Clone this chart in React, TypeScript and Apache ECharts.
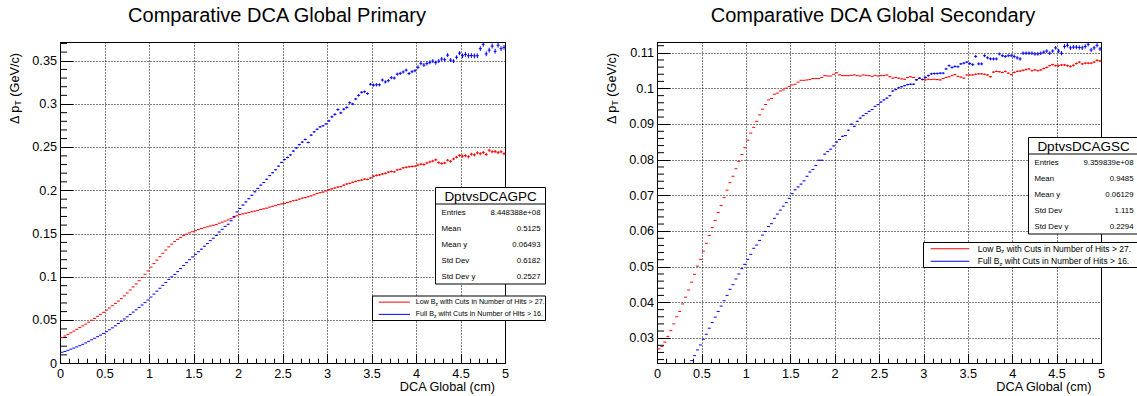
import React, { useEffect, useRef } from "react";
import * as echarts from "echarts";

const FONT = "'Liberation Sans', Arial, Helvetica, sans-serif";

// DCA axis: 150 equal bins between 0 and 5 cm
const DCA_MIN = 0;
const DCA_MAX = 5;
const N_BINS = 150;
const BIN_WIDTH = (DCA_MAX - DCA_MIN) / N_BINS;
const ERR_SEGMENT = 0.5; // error-bar sizes are listed per 0.5 cm of DCA

// ---- Comparative DCA Global Primary: mean Δp_T per bin (GeV/c) ----
const primaryLowBz = [
  0.0300, 0.0318, 0.0336, 0.0355, 0.0374, 0.0395, 0.0415, 0.0435, 0.0455, 0.0478,
  0.0500, 0.0521, 0.0545, 0.0568, 0.0592, 0.0617, 0.0642, 0.0668, 0.0695, 0.0722,
  0.0750, 0.0782, 0.0815, 0.0850, 0.0885, 0.0920, 0.0957, 0.0994, 0.1032, 0.1070,
  0.1115, 0.1155, 0.1195, 0.1235, 0.1275, 0.1312, 0.1348, 0.1380, 0.1410, 0.1435,
  0.1458, 0.1478, 0.1495, 0.1510, 0.1523, 0.1536, 0.1548, 0.1560, 0.1570, 0.1580,
  0.1590, 0.1598, 0.1606, 0.1622, 0.1634, 0.1646, 0.1660, 0.1674, 0.1690, 0.1708,
  0.1722, 0.1730, 0.1738, 0.1746, 0.1754, 0.1762, 0.1770, 0.1780, 0.1788, 0.1796,
  0.1808, 0.1818, 0.1825, 0.1836, 0.1845, 0.1850, 0.1862, 0.1870, 0.1882, 0.1888,
  0.1900, 0.1912, 0.1918, 0.1928, 0.1938, 0.1950, 0.1965, 0.1975, 0.1982, 0.1995,
  0.2010, 0.2020, 0.2030, 0.2040, 0.2045, 0.2062, 0.2075, 0.2082, 0.2095, 0.2105,
  0.2115, 0.2120, 0.2132, 0.2128, 0.2145, 0.2165, 0.2175, 0.2180, 0.2190, 0.2198,
  0.2212, 0.2220, 0.2215, 0.2238, 0.2245, 0.2262, 0.2268, 0.2275, 0.2278, 0.2282,
  0.2295, 0.2305, 0.2300, 0.2318, 0.2330, 0.2340, 0.2355, 0.2322, 0.2312, 0.2318,
  0.2350, 0.2338, 0.2365, 0.2385, 0.2405, 0.2398, 0.2402, 0.2390, 0.2420, 0.2412,
  0.2435, 0.2425, 0.2440, 0.2418, 0.2465, 0.2448, 0.2450, 0.2438, 0.2448, 0.2425,
];

const primaryFullBz = [
  0.0130, 0.0139, 0.0152, 0.0166, 0.0178, 0.0192, 0.0206, 0.0222, 0.0238, 0.0256,
  0.0274, 0.0292, 0.0310, 0.0328, 0.0348, 0.0368, 0.0390, 0.0412, 0.0436, 0.0462,
  0.0488, 0.0515, 0.0540, 0.0566, 0.0594, 0.0621, 0.0648, 0.0676, 0.0704, 0.0734,
  0.0768, 0.0802, 0.0836, 0.0870, 0.0903, 0.0937, 0.0972, 0.1002, 0.1030, 0.1062,
  0.1098, 0.1132, 0.1166, 0.1200, 0.1232, 0.1262, 0.1292, 0.1322, 0.1356, 0.1386,
  0.1420, 0.1448, 0.1480, 0.1520, 0.1552, 0.1585, 0.1610, 0.1650, 0.1700, 0.1752,
  0.1792, 0.1832, 0.1868, 0.1905, 0.1945, 0.1985, 0.2024, 0.2062, 0.2092, 0.2130,
  0.2172, 0.2205, 0.2240, 0.2282, 0.2325, 0.2358, 0.2382, 0.2412, 0.2455, 0.2492,
  0.2530, 0.2560, 0.2590, 0.2555, 0.2640, 0.2678, 0.2708, 0.2735, 0.2748, 0.2770,
  0.2805, 0.2852, 0.2880, 0.2935, 0.2898, 0.2940, 0.2960, 0.3015, 0.3000, 0.3058,
  0.3100, 0.3135, 0.3142, 0.3120, 0.3228, 0.3218, 0.3222, 0.3222, 0.3277, 0.3255,
  0.3270, 0.3304, 0.3300, 0.3345, 0.3354, 0.3370, 0.3392, 0.3352, 0.3373, 0.3385,
  0.3425, 0.3470, 0.3450, 0.3468, 0.3482, 0.3496, 0.3478, 0.3496, 0.3520, 0.3512,
  0.3565, 0.3508, 0.3496, 0.3540, 0.3588, 0.3558, 0.3573, 0.3558, 0.3560, 0.3556,
  0.3558, 0.3640, 0.3690, 0.3580, 0.3623, 0.3670, 0.3610, 0.3680, 0.3640, 0.3655,
];

// ---- Comparative DCA Global Secondary ----
const secondaryLowBz = [
  0.0270, 0.0277, 0.0289, 0.0305, 0.0321, 0.0340, 0.0360, 0.0375, 0.0396, 0.0415,
  0.0435, 0.0457, 0.0479, 0.0502, 0.0521, 0.0544, 0.0566, 0.0588, 0.0610, 0.0630,
  0.0652, 0.0672, 0.0694, 0.0715, 0.0736, 0.0754, 0.0775, 0.0795, 0.0815, 0.0834,
  0.0855, 0.0875, 0.0891, 0.0908, 0.0926, 0.0942, 0.0955, 0.0968, 0.0972, 0.0984,
  0.0987, 0.0993, 0.0996, 0.1001, 0.1006, 0.1010, 0.1012, 0.1018, 0.1023, 0.1023,
  0.1024, 0.1025, 0.1028, 0.1028, 0.1028, 0.1031, 0.1036, 0.1035, 0.1035, 0.1040,
  0.1044, 0.1038, 0.1036, 0.1036, 0.1036, 0.1037, 0.1038, 0.1036, 0.1035, 0.1038,
  0.1037, 0.1036, 0.1034, 0.1037, 0.1035, 0.1036, 0.1036, 0.1038, 0.1033, 0.1029,
  0.1031, 0.1029, 0.1027, 0.1026, 0.1031, 0.1033, 0.1031, 0.1025, 0.1029, 0.1026,
  0.1024, 0.1026, 0.1025, 0.1026, 0.1025, 0.1024, 0.1028, 0.1031, 0.1033, 0.1036,
  0.1039, 0.1034, 0.1032, 0.1029, 0.1038, 0.1038, 0.1038, 0.1040, 0.1041, 0.1041,
  0.1040, 0.1038, 0.1033, 0.1046, 0.1048, 0.1047, 0.1045, 0.1048, 0.1043, 0.1039,
  0.1045, 0.1048, 0.1049, 0.1051, 0.1053, 0.1055, 0.1050, 0.1052, 0.1050, 0.1052,
  0.1056, 0.1059, 0.1064, 0.1067, 0.1064, 0.1064, 0.1066, 0.1066, 0.1064, 0.1062,
  0.1065, 0.1070, 0.1074, 0.1069, 0.1071, 0.1071, 0.1071, 0.1074, 0.1079, 0.1077,
];

// the first bins sit below the visible Δp_T range and are left empty
const secondaryFullBz: (number | null)[] = [
  null, null, null, null, null, null, null, null, null, null,
  null, 0.0237, 0.0251, 0.0267, 0.0281, 0.0297, 0.0311, 0.0328, 0.0344, 0.0359,
  0.0375, 0.0390, 0.0405, 0.0420, 0.0437, 0.0450, 0.0466, 0.0480, 0.0495, 0.0507,
  0.0521, 0.0535, 0.0552, 0.0561, 0.0574, 0.0589, 0.0599, 0.0613, 0.0621, 0.0636,
  0.0648, 0.0659, 0.0670, 0.0680, 0.0692, 0.0705, 0.0716, 0.0724, 0.0732, 0.0741,
  0.0754, 0.0766, 0.0773, 0.0784, 0.0799, 0.0799, 0.0816, 0.0823, 0.0830, 0.0839,
  0.0850, 0.0857, 0.0866, 0.0868, 0.0883, 0.0900, 0.0894, 0.0908, 0.0917, 0.0924,
  0.0930, 0.0936, 0.0941, 0.0950, 0.0955, 0.0962, 0.0968, 0.0973, 0.0980, 0.0993,
  0.0997, 0.1002, 0.1005, 0.1008, 0.1011, 0.1012, 0.1012, 0.1024, 0.1029, 0.1025,
  0.1031, 0.1036, 0.1041, 0.1042, 0.1042, 0.1043, 0.1043, 0.1055, 0.1064, 0.1059,
  0.1062, 0.1061, 0.1069, 0.1071, 0.1074, 0.1070, 0.1067, 0.1090, 0.1069, 0.1069,
  0.1092, 0.1086, 0.1083, 0.1083, 0.1083, 0.1097, 0.1092, 0.1090, 0.1092, 0.1092,
  0.1090, 0.1086, 0.1083, 0.1099, 0.1099, 0.1099, 0.1099, 0.1097, 0.1097, 0.1099,
  0.1102, 0.1105, 0.1099, 0.1105, 0.1114, 0.1105, 0.1099, 0.1118, 0.1121, 0.1114,
  0.1116, 0.1116, 0.1115, 0.1114, 0.1118, 0.1124, 0.1108, 0.1114, 0.1121, 0.1111,
];

// half-height of the vertical error bars, one value per 0.5 cm segment
const primaryLowBzErr = [0, 0, 0, 0, 0.0003, 0.0006, 0.0009, 0.0012, 0.0015, 0.0018];
const primaryFullBzErr = [0, 0, 0, 0.0003, 0.0006, 0.001, 0.0014, 0.0018, 0.0023, 0.0028];
const secondaryLowBzErr = [0, 0, 0, 0, 0.00005, 0.0001, 0.00014, 0.0002, 0.00025, 0.0003];
const secondaryFullBzErr = [0, 0, 0, 0.00008, 0.00015, 0.0002, 0.0003, 0.0004, 0.0005, 0.0006];

// Δp_T axis ranges and tick steps
const primaryYRange = [0, 0.3711];
const primaryYStep = 0.05;
const primaryYMinorStep = 0.01;
const secondaryYRange = [0.0229, 0.1129];
const secondaryYStep = 0.01;
const secondaryYMinorStep = 0.002;

// statistics boxes
const primaryStats = [
  ["Entries", "8.448388e+08"],
  ["Mean", "0.5125"],
  ["Mean y", "0.06493"],
  ["Std Dev", "0.6182"],
  ["Std Dev y", "0.2527"],
];
const secondaryStats = [
  ["Entries", "9.359839e+08"],
  ["Mean", "0.9485"],
  ["Mean y", "0.06129"],
  ["Std Dev", "1.115"],
  ["Std Dev y", "0.2294"],
];

const RED = "#ff0000";
const BLUE = "#0000ff";

function isMultiple(v: number, step: number) {
  const r = v / step;
  return Math.abs(r - Math.round(r)) < 1e-6;
}

function fmt(v: number) {
  return String(parseFloat(v.toFixed(5)));
}

function binSeries(gridIndex: number, values: (number | null)[], errs: number[], color: string) {
  const data: number[][] = [];
  values.forEach((v, i) => {
    if (v == null) return;
    const x = DCA_MIN + (i + 0.5) * BIN_WIDTH;
    const seg = Math.min(errs.length - 1, Math.floor((x - DCA_MIN) / ERR_SEGMENT));
    data.push([x, v, errs[seg]]);
  });
  return {
    type: "custom",
    xAxisIndex: gridIndex,
    yAxisIndex: gridIndex,
    clip: true,
    silent: true,
    z: 4,
    data,
    encode: { x: 0, y: 1 },
    renderItem: (_p: any, api: any) => {
      const x = api.value(0);
      const y = api.value(1);
      const e = api.value(2);
      const l = api.coord([x - BIN_WIDTH / 2, y]);
      const r = api.coord([x + BIN_WIDTH / 2, y]);
      const children: any[] = [
        {
          type: "line",
          shape: { x1: l[0], y1: l[1], x2: r[0], y2: r[1] },
          style: { stroke: color, lineWidth: 1 },
        },
      ];
      if (e > 0) {
        const t = api.coord([x, y + e]);
        const b = api.coord([x, y - e]);
        children.push({
          type: "line",
          shape: { x1: t[0], y1: t[1], x2: b[0], y2: b[1] },
          style: { stroke: color, lineWidth: 1 },
        });
      }
      return { type: "group", children };
    },
  };
}

function minorTicks(range: number[], major: number, minor: number) {
  const out: number[] = [];
  const start = Math.ceil(range[0] / minor - 1e-9);
  const end = Math.floor(range[1] / minor + 1e-9);
  for (let k = start; k <= end; k++) {
    const v = k * minor;
    if (v <= range[0] + 1e-9 || v >= range[1] - 1e-9) continue;
    if (!isMultiple(v, major)) out.push(v);
  }
  return out;
}

function yMinorSeries(gridIndex: number, ticks: number[]) {
  return {
    type: "custom",
    xAxisIndex: gridIndex,
    yAxisIndex: gridIndex,
    clip: false,
    silent: true,
    z: 3,
    data: ticks.map((v) => [DCA_MIN, v]),
    encode: { x: 0, y: 1 },
    renderItem: (_p: any, api: any) => {
      const c = api.coord([api.value(0), api.value(1)]);
      return {
        type: "line",
        shape: { x1: c[0], y1: c[1], x2: c[0] + 6.5, y2: c[1] },
        style: { stroke: "#000", lineWidth: 1 },
      };
    },
  };
}

const axisFont = { fontFamily: FONT, fontSize: 12.7, color: "#000" };

function xAxisOf(gridIndex: number) {
  return {
    gridIndex,
    type: "value",
    min: DCA_MIN,
    max: DCA_MAX,
    interval: 0.5,
    axisLine: { show: true, lineStyle: { color: "#000", width: 1 } },
    axisTick: { show: true, inside: true, length: 9.7, lineStyle: { color: "#000" } },
    minorTick: { show: true, splitNumber: 5, length: 4.8, lineStyle: { color: "#000" } },
    axisLabel: { ...axisFont, margin: 3.5 },
    splitLine: { show: true, lineStyle: { color: "#000", type: [1, 2], width: 1 } },
  };
}

function yAxisOf(gridIndex: number, range: number[], step: number, interval?: number, splitNumber?: number) {
  return {
    gridIndex,
    type: "value",
    min: range[0],
    max: range[1],
    ...(interval != null ? { interval } : {}),
    ...(splitNumber != null ? { splitNumber } : {}),
    axisLine: { show: true, lineStyle: { color: "#000", width: 1 } },
    axisTick: { show: true, inside: true, length: 13, lineStyle: { color: "#000" } },
    minorTick: { show: false },
    axisLabel: {
      ...axisFont,
      margin: 3.5,
      formatter: (v: number) => (isMultiple(v, step) ? fmt(v) : ""),
    },
    splitLine: { show: true, lineStyle: { color: "#000", type: [1, 2], width: 1 } },
  };
}

// ---- overlay texts and boxes ----
type Panel = {
  title: string;
  titleX: number;
  yTitleX: number;
  xTitleRight: number;
  statsName: string;
  stats: string[][];
  statsX: number;
  statsY: number;
  legendX: number;
  legendY: number;
  legendW: number;
  legendH: number;
  legendLine: number[];
  legendTextX: number;
  legendFont: number;
};

const panels: Panel[] = [
  {
    title: "Comparative DCA Global Primary",
    titleX: 277,
    yTitleX: 14.5,
    xTitleRight: 495,
    statsName: "DptvsDCAGPC",
    stats: primaryStats,
    statsX: 435.5,
    statsY: 187.5,
    legendX: 372.5,
    legendY: 296,
    legendW: 173,
    legendH: 24.5,
    legendLine: [378.7, 409.9],
    legendTextX: 415.7,
    legendFont: 7.15,
  },
  {
    title: "Comparative DCA Global Secondary",
    titleX: 873,
    yTitleX: 611.5,
    xTitleRight: 1091.5,
    statsName: "DptvsDCAGSC",
    stats: secondaryStats,
    statsX: 1028.5,
    statsY: 137.5,
    legendX: 923.5,
    legendY: 242.5,
    legendW: 214,
    legendH: 25,
    legendLine: [930.7, 969.3],
    legendTextX: 977.7,
    legendFont: 8.5,
  },
];

const legendEntries = [
  { color: RED, pre: "Low B", sub: "z", post: " with Cuts in Number of Hits > 27." },
  { color: BLUE, pre: "Full B", sub: "z", post: " wiht Cuts in Number of Hits > 16." },
];

function panelGraphics(p: Panel) {
  const els: any[] = [];
  const Z = 20;
  // title
  els.push({
    type: "text",
    x: p.titleX,
    y: 15,
    z: Z,
    style: { text: p.title, fontFamily: FONT, fontSize: 20, fill: "#000", align: "center", verticalAlign: "middle" },
  });
  // y-axis title, rotated, end-aligned near the top of the frame
  els.push({
    type: "text",
    x: p.yTitleX,
    y: 53,
    rotation: Math.PI / 2,
    z: Z,
    style: {
      text: "{a|Δ p}{s|T}{a| (GeV/c)}",
      align: "right",
      verticalAlign: "middle",
      rich: {
        a: { fontFamily: FONT, fontSize: 12.7, fill: "#000" },
        s: { fontFamily: FONT, fontSize: 9, fill: "#000", padding: [7, 0, 0, 0] },
      },
    },
  });
  // x-axis title
  els.push({
    type: "text",
    x: p.xTitleRight,
    y: 386.5,
    z: Z,
    style: { text: "DCA Global (cm)", fontFamily: FONT, fontSize: 12.7, fill: "#000", align: "right", verticalAlign: "middle" },
  });
  // statistics box
  const sw = 110;
  const sh = 96.5;
  const hh = 16.5;
  els.push({
    type: "rect",
    z: Z,
    shape: { x: p.statsX, y: p.statsY, width: sw, height: sh },
    style: { fill: "#fff", stroke: "#000", lineWidth: 1 },
  });
  els.push({
    type: "line",
    z: Z + 1,
    shape: { x1: p.statsX, y1: p.statsY + hh, x2: p.statsX + sw, y2: p.statsY + hh },
    style: { stroke: "#000", lineWidth: 1 },
  });
  els.push({
    type: "text",
    z: Z + 1,
    x: p.statsX + sw / 2,
    y: p.statsY + hh / 2 + 0.5,
    style: { text: p.statsName, fontFamily: FONT, fontSize: 13.5, fill: "#000", align: "center", verticalAlign: "middle" },
  });
  p.stats.forEach(([label, value], k) => {
    const y = p.statsY + 24.5 + 16 * k;
    els.push({
      type: "text",
      z: Z + 1,
      x: p.statsX + 6,
      y,
      style: { text: label, fontFamily: FONT, fontSize: 7.8, fill: "#000", align: "left", verticalAlign: "middle" },
    });
    els.push({
      type: "text",
      z: Z + 1,
      x: p.statsX + sw - 5,
      y,
      style: { text: value, fontFamily: FONT, fontSize: 7.8, fill: "#000", align: "right", verticalAlign: "middle" },
    });
  });
  // legend
  els.push({
    type: "rect",
    z: Z,
    shape: { x: p.legendX, y: p.legendY, width: p.legendW, height: p.legendH },
    style: { fill: "#fff", stroke: "#000", lineWidth: 1 },
  });
  legendEntries.forEach((e, k) => {
    const y = p.legendY + p.legendH * (k === 0 ? 0.25 : 0.75);
    els.push({
      type: "line",
      z: Z + 1,
      shape: { x1: p.legendLine[0], y1: y, x2: p.legendLine[1], y2: y },
      style: { stroke: e.color, lineWidth: 1 },
    });
    els.push({
      type: "text",
      z: Z + 1,
      x: p.legendTextX,
      y,
      style: {
        text: `{a|${e.pre}}{s|${e.sub}}{a|${e.post}}`,
        align: "left",
        verticalAlign: "middle",
        rich: {
          a: { fontFamily: FONT, fontSize: p.legendFont, fill: "#000" },
          s: { fontFamily: FONT, fontSize: p.legendFont * 0.7, fill: "#000", padding: [p.legendFont * 0.55, 0, 0, 0] },
        },
      },
    });
  });
  return els;
}

export default function App() {
  const ref = useRef<HTMLDivElement>(null);

  useEffect(() => {
    if (!ref.current) return;
    const chart = echarts.init(ref.current, undefined, { renderer: "svg" });
    chart.setOption({
      animation: false,
      backgroundColor: "#fff",
      grid: [
        { left: 60.5, top: 42.5, width: 445, height: 321, show: true, borderColor: "#000", borderWidth: 1, backgroundColor: "#fff" },
        { left: 657.5, top: 42.5, width: 444, height: 321, show: true, borderColor: "#000", borderWidth: 1, backgroundColor: "#fff" },
      ],
      xAxis: [xAxisOf(0), xAxisOf(1)],
      yAxis: [
        yAxisOf(0, primaryYRange, primaryYStep, primaryYStep),
        yAxisOf(1, secondaryYRange, secondaryYStep, undefined, 9),
      ],
      series: [
        yMinorSeries(0, minorTicks(primaryYRange, primaryYStep, primaryYMinorStep)),
        yMinorSeries(1, minorTicks(secondaryYRange, secondaryYStep, secondaryYMinorStep)),
        binSeries(0, primaryLowBz, primaryLowBzErr, RED),
        binSeries(0, primaryFullBz, primaryFullBzErr, BLUE),
        binSeries(1, secondaryLowBz, secondaryLowBzErr, RED),
        binSeries(1, secondaryFullBz, secondaryFullBzErr, BLUE),
      ],
      graphic: { elements: [...panelGraphics(panels[0]), ...panelGraphics(panels[1])] },
    });
    return () => chart.dispose();
  }, []);

  return (
    <div
      ref={ref}
      style={{ position: "absolute", left: 0, top: 0, width: 1137, height: 396, background: "#fff" }}
    />
  );
}
